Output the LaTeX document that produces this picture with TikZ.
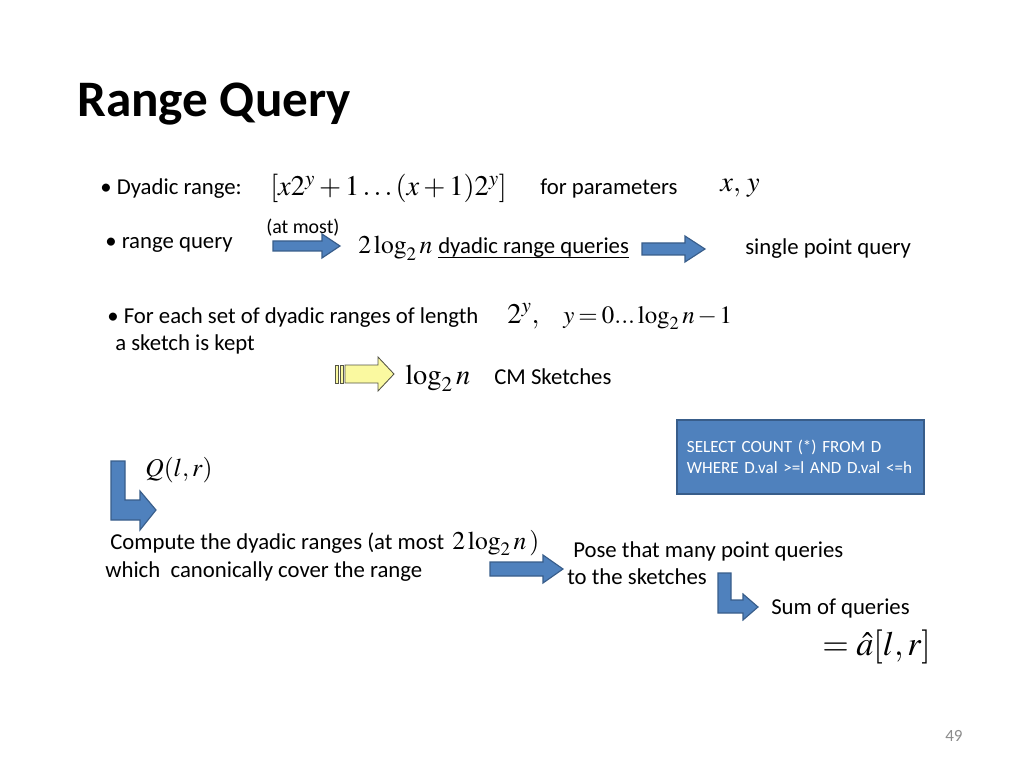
\documentclass[tikz,border=0pt]{standalone}
\usepackage{amsmath}
\usepackage[no-math]{fontspec}
\usepackage{mathptmx}
\setmainfont{Carlito}
\usetikzlibrary{positioning}
\definecolor{slideblue}{RGB}{79,129,189}
\definecolor{slideedge}{RGB}{56,93,138}
\definecolor{sketchyellow}{RGB}{250,249,160}
\definecolor{sketchedge}{RGB}{85,85,70}
\definecolor{pagegray}{RGB}{140,140,140}

\begin{document}
\begin{tikzpicture}[x=0.703125pt,y=-0.703125pt,
    words/.style={font={\fontsize{16}{19}\selectfont},anchor=base west,inner sep=0pt},
    formula/.style={font={\fontsize{20}{24}\selectfont},anchor=base west,inner sep=0pt},
    smallformula/.style={formula,font={\fontsize{18}{22}\selectfont}},
    blockarrow/.style={fill=slideblue,draw=slideedge,line width=0.8pt},
    stripearrow/.style={fill=sketchyellow,draw=sketchedge,line width=0.6pt},
    querybox/.style={fill=slideblue,draw=slideedge,line width=1.5pt,text=white,
      font={\fontsize{12}{14.8}\selectfont},align=left,inner sep=0pt,
      minimum width=173.7pt,minimum height=52pt,text width=159.7pt}]

    \useasboundingbox (0,0) rectangle (1024,768);

    \node[words,font={\fontsize{36}{43}\selectfont\bfseries}] (title) at (77,117) {Range Query};

    % dyadic ranges
    \node[words] (dyadic) at (100,195) {\textbullet\ Dyadic range:};
    \node[formula] (interval) at (270,196) {$[x2^{y}+1\ldots(x+1)2^{y}]$};
    \node[words] (params) at (540,195) {for parameters};
    \node[formula] (xy) at (720,192) {$x,\,y$};

    % range query -> dyadic range queries -> point query
    \node[words] (rq) at (105,249) {\textbullet\ range query};
    \node[words,font={\fontsize{14}{17}\selectfont}] (atmost) at (266,234) {(at most)};
    \draw[blockarrow] (273,241) -- (322,241) -- (322,234) -- (340,246)
                      -- (322,258) -- (322,251) -- (273,251) -- cycle;
    \node[smallformula] (twolog) at (358,254) {$2\log_2 n$};
    \node[words] (drq) at (438,254) {dyadic range queries};
    \draw[line width=0.7pt] ([yshift=-2.5pt]drq.base west) -- ([yshift=-2.5pt]drq.base east);
    \draw[blockarrow] (642,243) -- (685,243) -- (685,236) -- (705,249)
                      -- (685,262) -- (685,255) -- (642,255) -- cycle;
    \node[words] (spq) at (745,255) {single point query};

    % one sketch per length
    \node[words] (foreach) at (107,323) {\textbullet\ For each set of dyadic ranges of length};
    \node[words] (kept) at (115,350) {a sketch is kept};
    \node[formula] (len) at (507,323) {$2^{y},$};
    \node[smallformula,font={\fontsize{17.5}{21}\selectfont}] (yrange) at (563,323)
      {$\thickmuskip=3mu \medmuskip=2mu y=0...\log_2 n-1$};

    \draw[stripearrow] (335,365) rectangle (338,383);
    \draw[stripearrow] (340,365) rectangle (343,383);
    \draw[stripearrow] (345,365) -- (378,365) -- (378,357) -- (394,374)
                       -- (378,391) -- (378,383) -- (345,383) -- cycle;
    \node[formula] (logn) at (405,384) {$\log_2 n$};
    \node[words] (cm) at (494,384) {CM Sketches};

    \node[querybox] (sql) at (800.5,457) {SELECT COUNT (*) FROM D\\WHERE D.val >=l AND D.val <=h};

    % query steps
    \node[smallformula] (qlr) at (145,476) {$Q(l,r)$};
    \draw[blockarrow] (111,461) -- (125,461) -- (125,500) -- (140,500) -- (140,491)
                      -- (156,510) -- (140,530) -- (140,520) -- (111,520) -- cycle;

    \node[words] (compute) at (110,549) {Compute the dyadic ranges (at most};
    \node[smallformula] (twolog2) at (452,549) {$2\log_2 n$};
    \node[smallformula] (close) at (529,549) {$)$};
    \node[words] (cover) at (105,577) {which\ \ canonically cover the range};
    \draw[blockarrow] (490,562) -- (543,562) -- (543,555) -- (563,569)
                      -- (543,583) -- (543,576) -- (490,576) -- cycle;

    \node[words] (pose) at (573,557) {Pose that many point queries};
    \node[words] (tosk) at (567,584) {to the sketches};
    \draw[blockarrow] (718,573) -- (731,573) -- (731,600) -- (743,600) -- (743,594)
                      -- (758,607) -- (743,620) -- (743,613) -- (718,613) -- cycle;

    \node[words] (sum) at (771,614) {Sum of queries};
    \node[formula,font={\fontsize{24}{28}\selectfont}] (ahat) at (822,655) {$=\hat{a}[l,r]$};

    \node[words,font={\fontsize{12}{14}\selectfont},text=pagegray] (page) at (945,741) {49};

\end{tikzpicture}
\end{document}
